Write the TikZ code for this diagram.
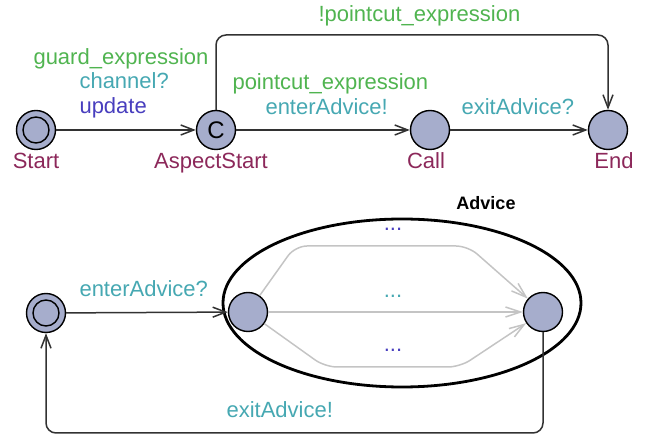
\documentclass[tikz,border=0pt]{standalone}
\usepackage{fontspec}
\setmainfont{Liberation Sans}
\usetikzlibrary{arrows.meta}

\definecolor{locfill}{RGB}{166,173,204}
\definecolor{edgedark}{RGB}{50,50,50}
\definecolor{edgesoft}{RGB}{196,196,196}
\definecolor{guardcol}{RGB}{80,180,80}
\definecolor{synccol}{RGB}{70,168,178}
\definecolor{updcol}{RGB}{72,62,190}
\definecolor{namecol}{RGB}{140,40,90}

\begin{document}
\begin{tikzpicture}[x=1pt, y=-1pt,
    font=\fontsize{22}{26}\selectfont,
    loc/.style={circle, draw=black, line width=1.4pt, fill=locfill, minimum size=39pt, inner sep=0pt},
    edge/.style={draw=edgedark, line width=1.5pt, -{Straight Barb[length=13pt,width=10pt]}},
    softedge/.style={draw=edgesoft, line width=1.5pt, -{Straight Barb[length=15pt,width=10pt]}},
    locname/.style={anchor=base, text=namecol},
    guard/.style={anchor=base west, text=guardcol},
    sync/.style={anchor=base west, text=synccol},
    upd/.style={anchor=base west, text=updcol}]
    \useasboundingbox (0,0) rectangle (654,443);

    % aspect automaton
    \node[loc] (start) at (36,130) {};
    \node[loc, font=\fontsize{24}{24}\selectfont] (aspect) at (216,130) {C};
    \node[loc] (call) at (430,130) {};
    \node[loc] (end) at (608,130) {};
    \node[locname] (startname) at (36,169) {Start};
    \node[locname] (aspectname) at (211,169) {AspectStart};
    \node[locname] (callname) at (426,169) {Call};
    \node[locname] (endname) at (614,169) {End};

    \coordinate (skip) at (400,35);
    \draw[edge] (start) -- (aspect);
    \draw[edge] (aspect) -- (call);
    \draw[edge] (call) -- (end);
    \draw[edge, rounded corners=10pt] (aspect) |- (skip) -| (end);

    \node[guard] (g1) at (30,65) {guard\_expression};
    \node[sync] (s1) at (76,89) {channel?};
    \node[upd] (u1) at (76,114) {update};
    \node[guard] (g2) at (229,90) {pointcut\_expression};
    \node[sync] (s2) at (262,115) {enterAdvice!};
    \node[sync] (s3) at (458,115) {exitAdvice?};
    \node[guard] (g3) at (315,22) {!pointcut\_expression};

    % advice automaton
    \draw[line width=2.8pt] (402,303) ellipse (179 and 84); % Advice
    \node[anchor=base, font=\bfseries\fontsize{18}{20}\selectfont] (advname) at (486,210) {Advice};
    \node[loc] (init) at (46,313) {};
    \node[loc] (adv1) at (248,312) {};
    \node[loc] (adv2) at (543,312) {};
    \foreach \p in {start,init} \draw[line width=1.4pt] (\p) circle (13);

    \coordinate (t1) at (295,246); \coordinate (t2) at (468,246);
    \coordinate (b1) at (325,367); \coordinate (b2) at (460,367);
    \coordinate (back) at (300,433);
    \draw[softedge, rounded corners=12pt] (adv1) -- (t1) -- (t2) -- (adv2);
    \draw[softedge] (adv1) -- (adv2);
    \draw[softedge, rounded corners=12pt] (adv1) -- (b1) -- (b2) -- (adv2);
    \draw[edge] (init) -- (adv1);
    \draw[edge, rounded corners=10pt] (adv2) |- (back) -| (init);

    \node[text=updcol] (d1) at (393,229) {...};
    \node[text=synccol] (d2) at (393,296) {...};
    \node[text=updcol] (d3) at (393,350) {...};
    \node[sync] (s4) at (76,297) {enterAdvice?};
    \node[sync] (s5) at (223,418) {exitAdvice!};
\end{tikzpicture}
\end{document}
